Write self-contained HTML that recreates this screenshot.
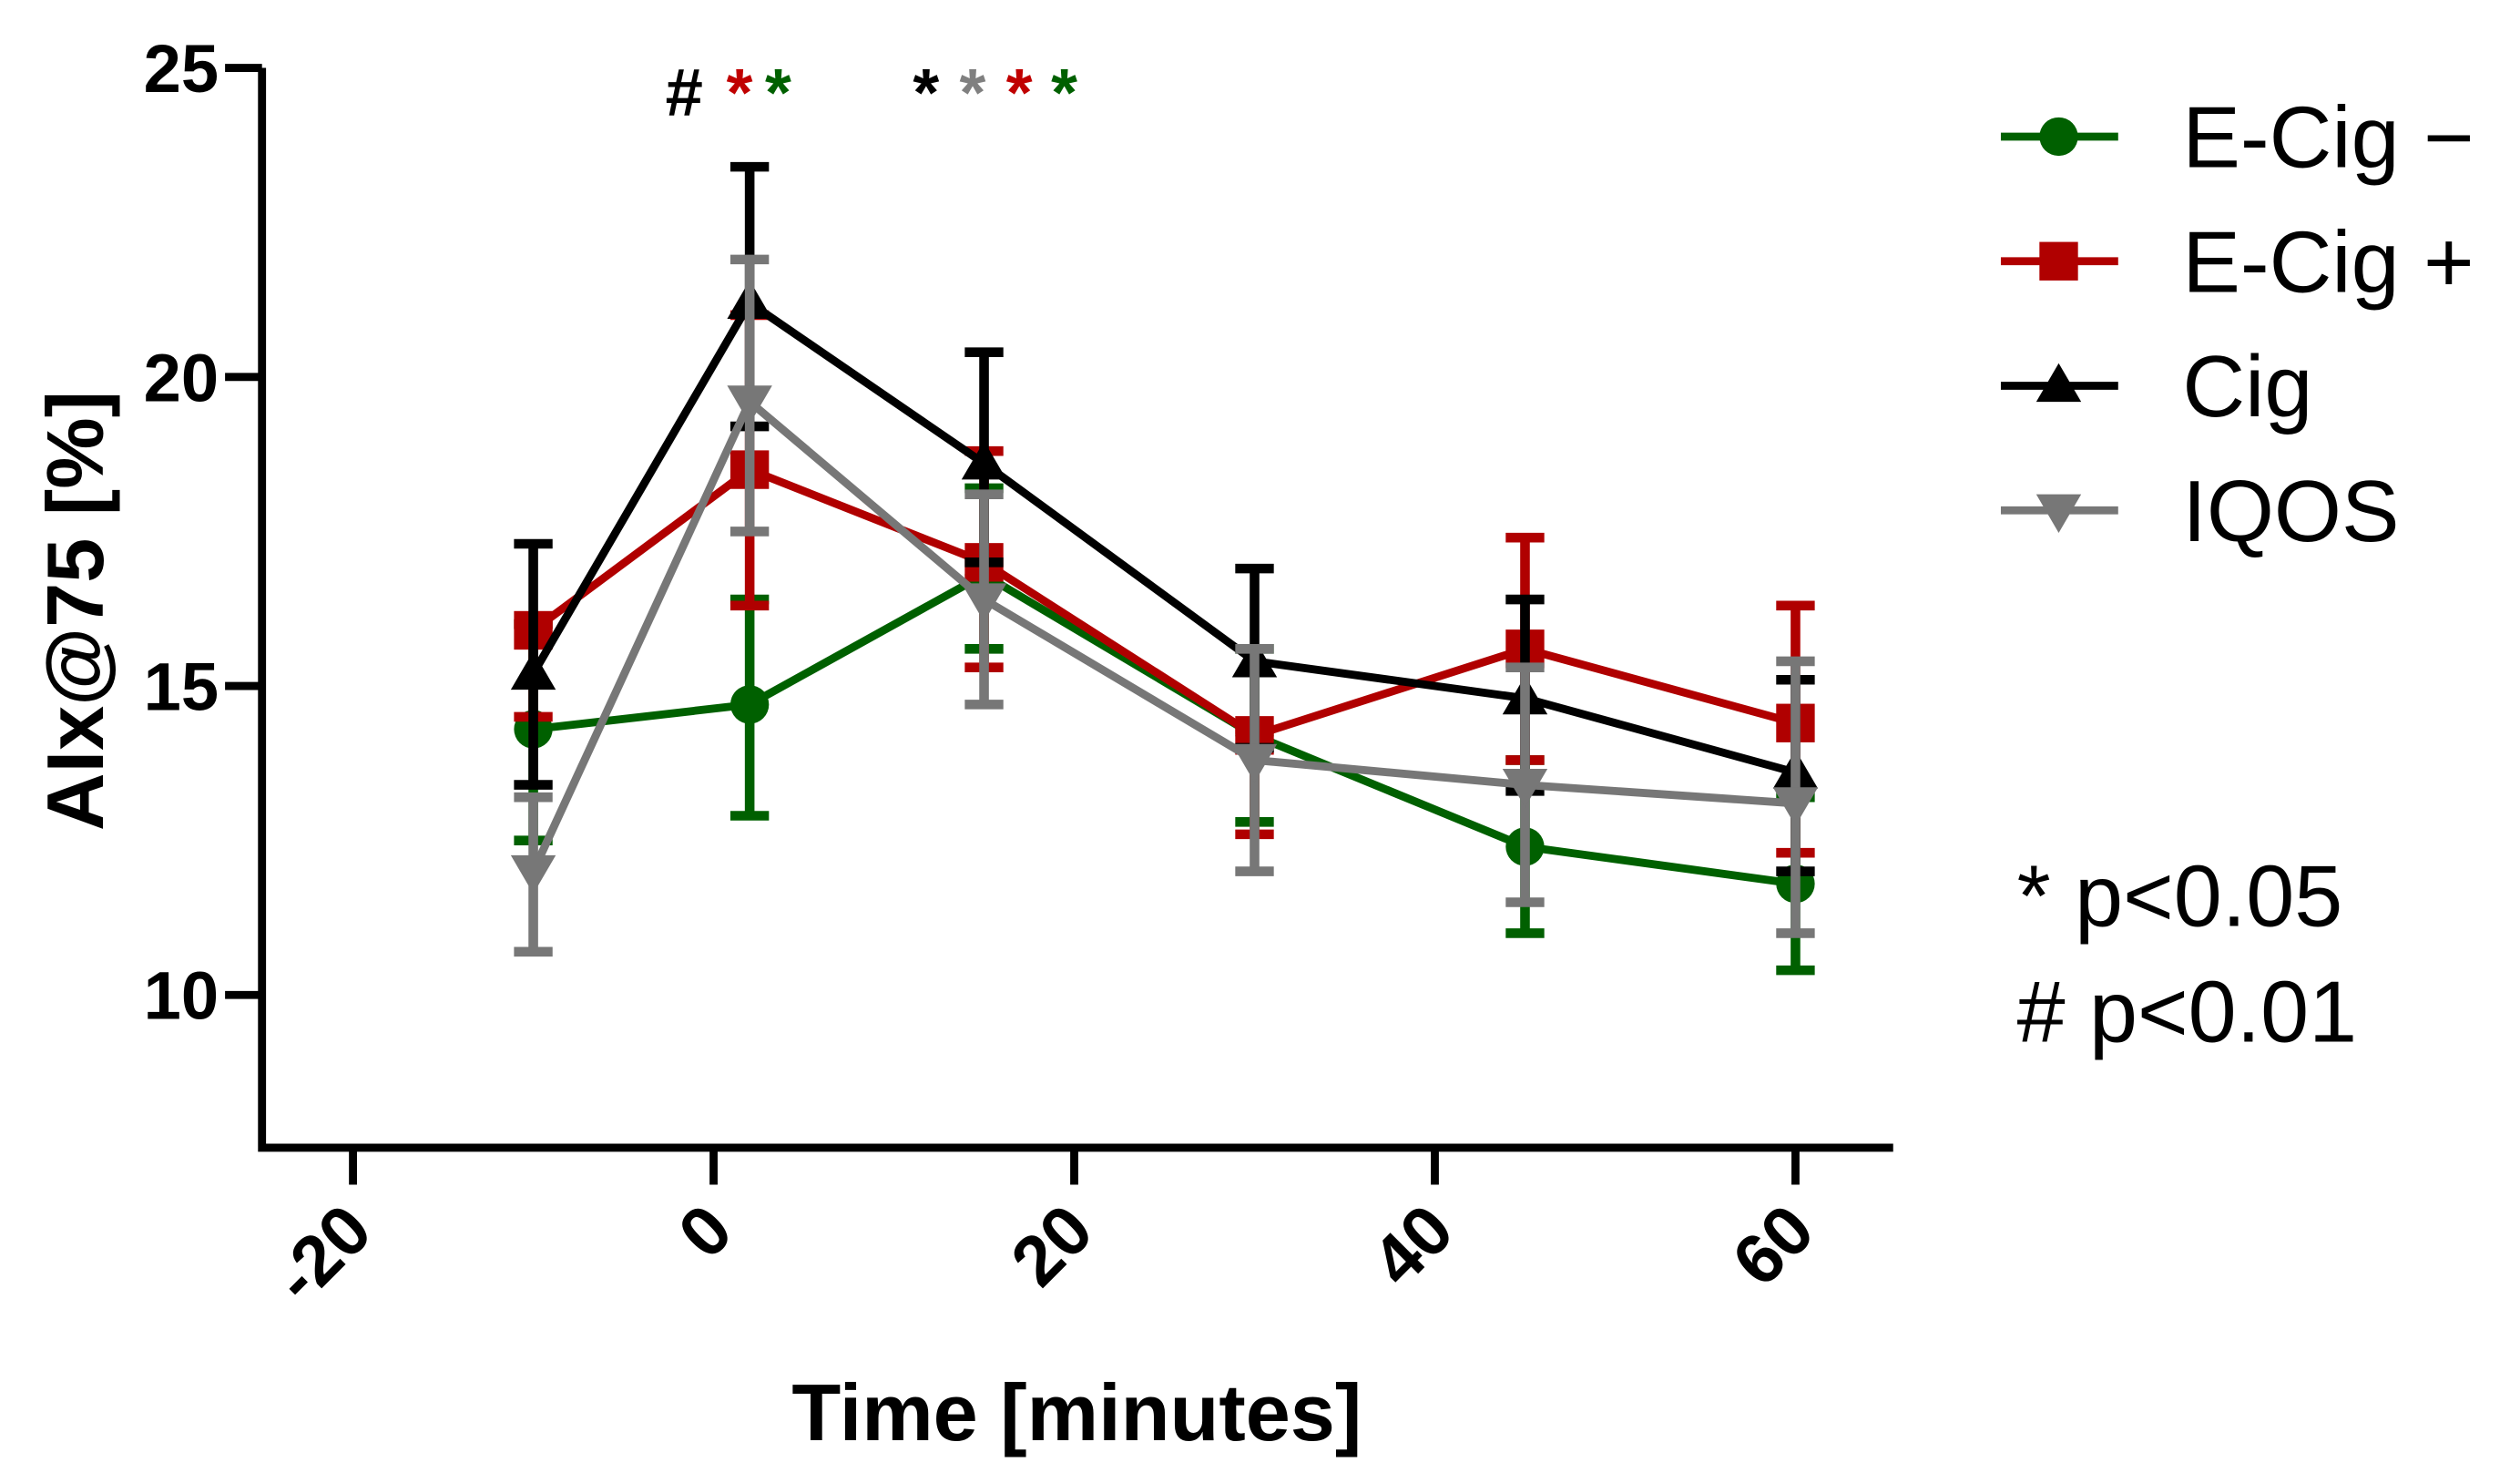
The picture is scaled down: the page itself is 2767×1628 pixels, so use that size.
<!DOCTYPE html>
<html><head><meta charset="utf-8"><style>
html,body{margin:0;padding:0;background:#fff;}
svg{display:block;font-family:"Liberation Sans",Arial,sans-serif;}
</style></head><body>
<svg id="chart" width="2767" height="1628" viewBox="0 0 1568 922.6" xmlns="http://www.w3.org/2000/svg">
<g id="axes"></g>
<g id="series"></g>
<text x="670" y="896" text-anchor="middle" font-size="50" font-weight="bold">Time [minutes]</text>
<text transform="translate(64,380) rotate(-90)" text-anchor="middle" font-size="50" font-weight="bold">AIx@75 [%]</text>
<g font-size="42" font-weight="bold">
<text x="414" y="72" fill="#000">#</text>
<text x="452" y="72" fill="#c00000">*</text><text x="476" y="72" fill="#006000">*</text>
<text x="568" y="72" fill="#000">*</text><text x="597" y="72" fill="#808080">*</text><text x="626" y="72" fill="#c00000">*</text><text x="654" y="72" fill="#006000">*</text>
</g>
<g id="legend"></g>
<text x="1255" y="576" font-size="54">* p&lt;0.05</text>
<text x="1255" y="648" font-size="54"># p&lt;0.01</text>
<script>
const times=[-10,2,15,30,45,60];
const seriesNames=["E-Cig −","E-Cig +","Cig","IQOS"];
const ecigMinus=[14.3,14.7,16.8,14.2,12.4,11.8];
const ecigMinusHi=[16.0,16.4,18.2,15.6,13.8,13.2];
const ecigMinusLo=[12.5,12.9,15.6,12.8,11.0,10.4];
const ecigPlus=[15.9,18.5,17.0,14.2,15.6,14.4];
const ecigPlusHi=[16.0,21.0,18.8,14.3,17.4,16.3];
const ecigPlusLo=[14.5,16.3,15.3,12.6,13.8,12.3];
const cig=[15.2,21.2,18.6,15.4,14.8,13.6];
const cigHi=[17.3,23.4,20.4,16.9,16.4,15.1];
const cigLo=[13.4,19.2,17.0,14.0,13.3,12.0];
const iqos=[12.0,19.6,16.4,13.8,13.4,13.1];
const iqosHi=[13.2,21.9,18.1,15.6,15.3,15.4];
const iqosLo=[10.7,17.5,14.7,12.0,11.5,11.0];
const yTicks=[10,15,20,25];
const xTicks=[-20,0,20,40,60];

const NS="http://www.w3.org/2000/svg";
const X=v=>444+v*11.22;
const Y=v=>619-(v-10)*38.45;
function mk(tag,attrs,parent){const e=document.createElementNS(NS,tag);for(const k in attrs)e.setAttribute(k,attrs[k]);parent.appendChild(e);return e;}
const axes=document.getElementById('axes');
let e=mk('path',{d:`M163 ${Y(25)} V714 H1178`,stroke:'#000','stroke-width':5,fill:'none'},axes);


yTicks.forEach(t=>{
  let l=mk('line',{x1:140,x2:163,y1:Y(t),y2:Y(t),stroke:'#000','stroke-width':5},axes);
  
  
  let tx=mk('text',{x:136,y:Y(t)+15,'text-anchor':'end','font-size':42,'font-weight':'bold'},axes);
  tx.textContent=t;
  
  
});
xTicks.forEach(t=>{
  let l=mk('line',{x1:X(t),x2:X(t),y1:714,y2:737,stroke:'#000','stroke-width':5},axes);
  
  
  let tx=mk('text',{transform:`translate(${X(t)+14},${768}) rotate(-45)`,'text-anchor':'end','font-size':44,'font-weight':'bold'},axes);
  tx.textContent=t;
  
  
});
const colors=["#006000","#b00000","#000000","#777777"];
const shapes=["circle","square","up","down"];
const vals=[ecigMinus,ecigPlus,cig,iqos],his=[ecigMinusHi,ecigPlusHi,cigHi,iqosHi],los=[ecigMinusLo,ecigPlusLo,cigLo,iqosLo];
function marker(shape,x,y,c,g){
  let m;
  if(shape==="circle")m=mk('circle',{cx:x,cy:y,r:12,fill:c},g);
  else if(shape==="square")m=mk('rect',{x:x-12,y:y-12,width:24,height:24,fill:c},g);
  else if(shape==="up")m=mk('polygon',{points:`${x},${y-14} ${x-14},${y+10} ${x+14},${y+10}`,fill:c},g);
  else m=mk('polygon',{points:`${x},${y+14} ${x-14},${y-10} ${x+14},${y-10}`,fill:c},g);
  return m;
}
const sg=document.getElementById('series');
vals.forEach((arr,i)=>{
  const g=mk('g',{},sg);
  
  
  times.forEach((t,j)=>{
    const x=X(t);
    let b=mk('path',{d:`M${x} ${Y(his[i][j])} V${Y(los[i][j])} M${x-12} ${Y(his[i][j])} H${x+12} M${x-12} ${Y(los[i][j])} H${x+12}`,stroke:colors[i],'stroke-width':6,fill:'none'},g);
    
    
  });
  let p=mk('polyline',{points:times.map((t,j)=>X(t)+','+Y(arr[j])).join(' '),stroke:colors[i],'stroke-width':5,fill:'none'},g);
  
  
  times.forEach((t,j)=>{
    let m=marker(shapes[i],X(t),Y(arr[j]),colors[i],g);
    
    
  });
});
const lg=document.getElementById('legend');
seriesNames.forEach((n,i)=>{
  const y=85+i*77.5;
  const g=mk('g',{},lg);
  
  
  mk('line',{x1:1245,x2:1318,y1:y,y2:y,stroke:colors[i],'stroke-width':5},g);
  marker(shapes[i],1281,y,colors[i],g);
  let t=mk('text',{x:1358,y:y+19,'font-size':54},g);
  t.textContent=n;
});
</script>
</svg>
</body></html>
